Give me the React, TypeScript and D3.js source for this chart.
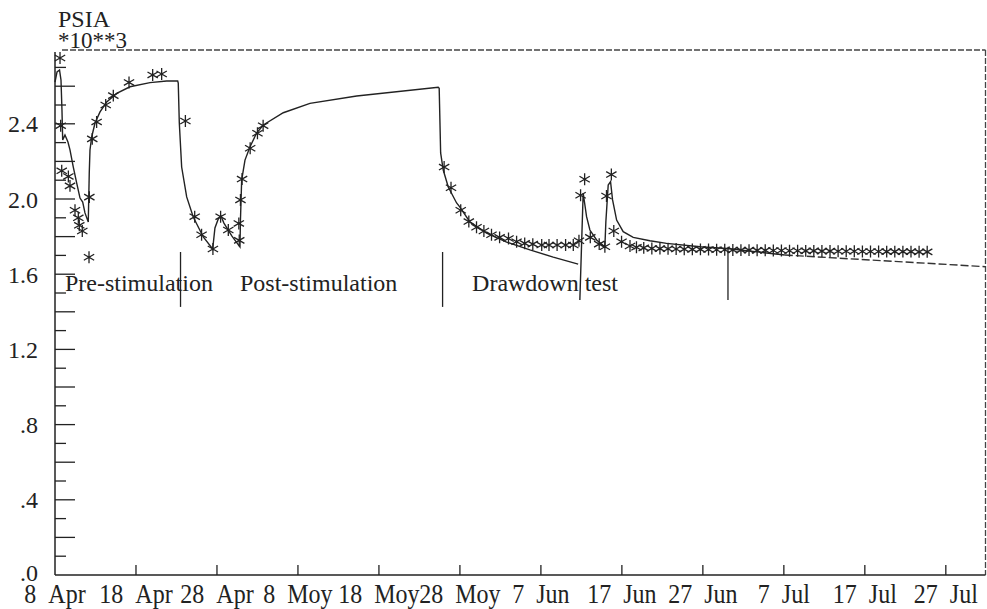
import React from 'react';
import * as d3 from 'd3';

// ---------- data (days since 8 Apr, pressure in 10^3 PSIA) ----------
const xTickDays = [0, 10, 20, 30, 40, 50, 60, 70, 80, 90, 100, 110];
const xTickNums = ["8", "18", "28", "8", "18", "28", "7", "17", "27", "7", "17", "27"];
const xTickMonths = ["Apr", "Apr", "Apr", "Moy", "Moy", "Moy", "Jun", "Jun", "Jun", "Jul", "Jul", "Jul"];

const yLabelValues = [0, 0.4, 0.8, 1.2, 1.6, 2.0, 2.4];
const yLabelTexts = [".0", ".4", ".8", "1.2", "1.6", "2.0", "2.4"];
const yTickValues = [0.1, 0.2, 0.3, 0.4, 0.5, 0.6, 0.7, 0.8, 0.9, 1.0, 1.1, 1.2, 1.3, 1.4, 1.5, 1.6, 1.7, 1.8, 1.9, 2.0, 2.1, 2.2, 2.3, 2.4, 2.5, 2.6, 2.7];

// simulated (model) pressure, first continuous part
const modelMain: [number, number][] = [
  [0, 2.622], [0.25, 2.676], [0.56, 2.686], [0.74, 2.633], [0.86, 2.473], [0.95, 2.314],
  [1.23, 2.34], [1.6, 2.303], [1.85, 2.261], [2.26, 2.17], [2.68, 2.085], [3.09, 2.005],
  [3.42, 1.984], [3.7, 1.926], [4.11, 1.878], [4.23, 2.138], [4.32, 2.261], [4.53, 2.33],
  [4.94, 2.404], [5.56, 2.463], [6.38, 2.516], [7.62, 2.562], [9.26, 2.597], [11.73, 2.619],
  [13.79, 2.628], [15.15, 2.628], [15.22, 2.617], [15.35, 2.404], [15.64, 2.17], [16.26, 2.011],
  [17.07, 1.904], [18.31, 1.798], [19.47, 1.734], [19.75, 1.846], [20.16, 1.894], [20.49, 1.91],
  [20.86, 1.872], [21.85, 1.803], [22.84, 1.745], [22.9, 1.888], [23.05, 2.101], [23.46, 2.207],
  [24.07, 2.277], [24.9, 2.351], [25.72, 2.394], [28.19, 2.459], [31.48, 2.509], [37.25, 2.548],
  [47.32, 2.594], [47.44, 2.589], [47.62, 2.245], [47.94, 2.154], [48.56, 2.064], [49.59, 1.979],
  [50.0, 1.957], [51.23, 1.878], [53.3, 1.819], [55.77, 1.771], [58.64, 1.729], [61.52, 1.691],
  [64.6, 1.654],
];

// simulated pressure, second part (re-start of drawdown)
const modelLate: [number, number][] = [
  [64.81, 1.463], [65.22, 2.032], [65.64, 1.906], [66.05, 1.835], [66.88, 1.782], [67.9, 1.746],
  [68.02, 1.878], [68.31, 2.074], [68.6, 2.092], [68.85, 1.995], [69.35, 1.888], [70.16, 1.826],
  [71.4, 1.796], [73.46, 1.778], [75.52, 1.764], [79.63, 1.746], [82.96, 1.737], [90.12, 1.702],
];

// forecast (dashed)
const modelForecast: [number, number][] = [[90.12, 1.702], [114.9, 1.64]];

// observed pressure
const observed: [number, number][] = [
  [0.62, 2.75], [0.7, 2.39], [0.83, 2.15], [1.65, 2.12], [1.85, 2.07], [2.47, 1.94],
  [2.88, 1.9], [3.0, 1.86], [3.37, 1.83], [4.2, 1.69], [4.24, 2.01], [4.6, 2.32],
  [5.14, 2.41], [6.26, 2.5], [7.2, 2.55], [9.14, 2.62], [12.06, 2.66], [13.17, 2.665],
  [16.1, 2.415], [17.25, 1.906], [18.1, 1.81], [19.5, 1.734], [20.45, 1.906], [21.4, 1.835],
  [22.75, 1.78], [22.7, 1.87], [22.9, 1.995], [23.1, 2.106], [24.1, 2.27], [25.0, 2.35],
  [25.7, 2.39],
  [48.05, 2.17], [48.9, 2.06], [50.1, 1.94], [51.1, 1.88], [52.05, 1.85], [52.96, 1.83],
  [53.9, 1.81], [54.9, 1.796], [56.0, 1.79], [57.0, 1.773], [58.0, 1.764], [59.0, 1.76],
  [60.1, 1.755], [61.0, 1.755], [62.0, 1.755], [63.05, 1.755], [64.0, 1.755], [64.7, 1.778],
  [64.9, 2.02], [65.4, 2.105], [66.1, 1.796], [67.2, 1.76], [67.9, 1.746], [68.1, 2.016],
  [68.7, 2.13], [69.0, 1.83], [69.96, 1.773], [71.0, 1.75], [71.8, 1.743], [72.7, 1.74],
  [73.7, 1.737], [74.7, 1.736], [75.7, 1.735], [76.7, 1.734], [77.7, 1.733], [78.7, 1.732],
  [79.7, 1.732], [80.7, 1.731], [81.7, 1.73], [82.7, 1.73], [83.7, 1.729], [84.7, 1.728],
  [85.7, 1.728], [86.7, 1.727], [87.7, 1.727], [88.7, 1.726], [89.7, 1.726], [90.7, 1.725],
  [91.7, 1.725], [92.7, 1.724], [93.7, 1.724], [94.7, 1.723], [95.7, 1.723], [96.7, 1.722],
  [97.7, 1.722], [98.7, 1.722], [99.7, 1.721], [100.7, 1.721], [101.7, 1.721], [102.7, 1.72],
  [103.7, 1.72], [104.7, 1.72], [105.7, 1.72], [106.7, 1.719], [107.7, 1.719],
];

// phase boundaries and labels
const separatorDays = [15.5, 47.86, 83.1];
const separatorTops = [1.718, 1.718, 1.739];
const separatorBottoms = [1.426, 1.426, 1.463];
const phaseLabels = ["Pre-stimulation", "Post-stimulation", "Drawdown test"];
const phaseLabelDays = [1.23, 22.84, 51.5];
const phaseLabelValue = 1.51;

const yUnit = "PSIA";
const yScaleNote = "*10**3";

// ---------- chart ----------
const FONT = "Liberation Serif, DejaVu Serif, Times New Roman, serif";
const INK = "#222";

export default function App() {
  const x = d3.scaleLinear().domain([0, 114.9]).range([55, 985.5]);
  const y = d3.scaleLinear().domain([0, 2.7926]).range([575, 50]);
  const line = d3.line<[number, number]>().x(d => x(d[0])).y(d => y(d[1]));
  const star = d3.symbol().type(d3.symbolAsterisk).size(100)() as string;

  const x0 = x(0), x1 = x(114.9), yb = y(0), yt = y(2.7926);
  const textStyle = { fontFamily: FONT, fontSize: '24px', fill: INK } as React.CSSProperties;

  return (
    <svg width={987} height={609} style={{ position: 'absolute', left: 0, top: 0, background: '#fff' }}>
      {/* frame */}
      <line x1={x0 + 7} y1={yt} x2={x1} y2={yt} stroke="#444" strokeWidth={1.3} strokeDasharray="6,2" />
      <line x1={x1} y1={yt} x2={x1} y2={yb} stroke="#444" strokeWidth={1.3} strokeDasharray="6,2" />
      <line x1={x0} y1={yt + 2} x2={x0} y2={yb} stroke={INK} strokeWidth={1.5} />
      <line x1={x0} y1={yb} x2={x1} y2={yb} stroke={INK} strokeWidth={1.5} />

      {/* y ticks */}
      {yTickValues.map((v, i) => (
        <line key={'yt' + i} x1={x0} x2={x0 + (Math.round(v * 10) % 2 === 0 ? 20 : 11)} y1={y(v)} y2={y(v)}
          stroke={INK} strokeWidth={1.3} />
      ))}
      {yLabelValues.map((v, i) => (
        <text key={'yl' + i} x={38} y={y(v) + (i === 0 ? 6 : 8.5)} textAnchor="end" style={textStyle}>{yLabelTexts[i]}</text>
      ))}
      <text x={58} y={27} style={textStyle}>{yUnit}</text>
      <text x={58} y={48} style={{ ...textStyle, fontSize: '23px' }}>{yScaleNote}</text>

      {/* x ticks */}
      {xTickDays.map((d, i) => (
        <g key={'xt' + i}>
          {i > 0 && <line x1={x(d)} x2={x(d)} y1={yb} y2={yb - 10} stroke={INK} strokeWidth={1.3} />}
          <text transform={`translate(${x(d)},603) scale(1,1.1)`} textAnchor="middle" style={textStyle}>
            <tspan>{xTickNums[i]}</tspan>
            <tspan dx={12}>{xTickMonths[i]}</tspan>
          </text>
        </g>
      ))}

      {/* phase separators and labels */}
      {separatorDays.map((d, i) => (
        <line key={'sep' + i} x1={x(d)} x2={x(d)} y1={y(separatorTops[i])} y2={y(separatorBottoms[i])}
          stroke={INK} strokeWidth={1.3} />
      ))}
      {phaseLabels.map((t, i) => (
        <text key={'pl' + i} x={x(phaseLabelDays[i])} y={y(phaseLabelValue)} style={textStyle}>{t}</text>
      ))}

      {/* model curves */}
      <path d={line(modelMain) as string} fill="none" stroke={INK} strokeWidth={1.4} />
      <path d={line(modelLate) as string} fill="none" stroke={INK} strokeWidth={1.4} />
      <path d={line(modelForecast) as string} fill="none" stroke="#333" strokeWidth={1.4} strokeDasharray="8,3" />

      {/* observed */}
      {observed.map((p, i) => (
        <path key={'ob' + i} d={star} transform={`translate(${x(p[0])},${y(p[1])})`}
          fill="none" stroke={INK} strokeWidth={1.3} />
      ))}
    </svg>
  );
}
